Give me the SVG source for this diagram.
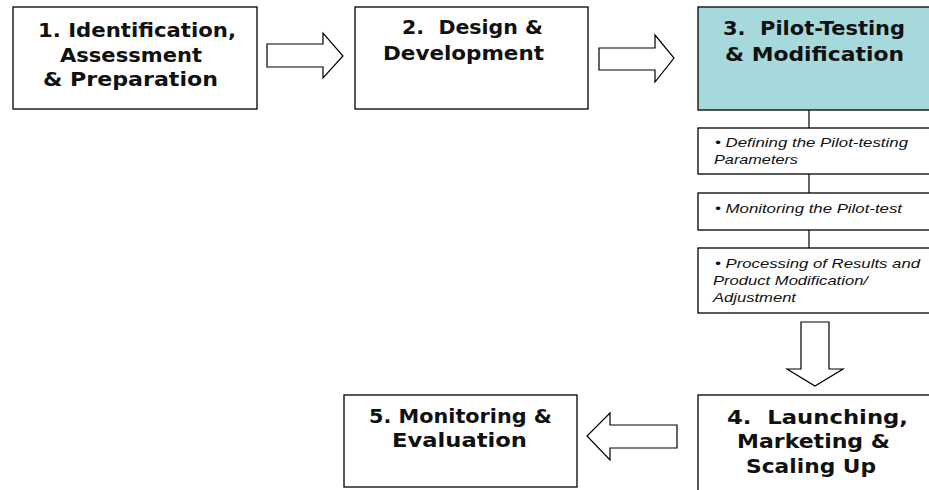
<svg xmlns="http://www.w3.org/2000/svg" width="929" height="490" viewBox="0 0 929 490">
  <style>
    .box { fill: #ffffff; stroke: #000000; stroke-width: 1.3; }
    .teal { fill: #a5d9db; }
    .title { font-family: "DejaVu Sans", "Liberation Sans", sans-serif; font-weight: bold; font-size: 20px; fill: #111111; }
    .item { font-family: "Liberation Sans", Arial, sans-serif; font-style: italic; font-size: 13px; fill: #111111; }
    .arrow { fill: #ffffff; stroke: #000000; stroke-width: 1.2; stroke-linejoin: miter; }
    .link { stroke: #000000; stroke-width: 1.2; fill: none; }
  </style>
  <rect width="929" height="490" fill="#ffffff"/>

  <g id="connectors">
    <polygon class="arrow" points="267,44 323,44 323,33 343,56 323,78 323,67 267,67"/>
    <polygon class="arrow" points="599,48 655,48 655,35 674,58 655,82 655,70 599,70"/>
    <polygon class="arrow" points="801,322 829,322 829,369 843,369 815,386 787,369 801,369"/>
    <polygon class="arrow" points="677,425 610,425 610,413 587,436 610,460 610,448 677,448"/>
    <line class="link" x1="809" y1="110" x2="809" y2="128"/>
    <line class="link" x1="809" y1="174" x2="809" y2="193"/>
    <line class="link" x1="809" y1="230" x2="809" y2="248"/>
  </g>

  <g id="node1">
    <rect class="box" x="13" y="7" width="244" height="102"/>
    <text class="title" x="38" y="37" textLength="198" lengthAdjust="spacingAndGlyphs">1. Identification,</text>
    <text class="title" x="60" y="62" textLength="142" lengthAdjust="spacingAndGlyphs">Assessment</text>
    <text class="title" x="43" y="86" textLength="175" lengthAdjust="spacingAndGlyphs">&amp; Preparation</text>
  </g>

  <g id="node2">
    <rect class="box" x="355" y="7" width="233" height="102"/>
    <text class="title" x="402" y="34" textLength="141" lengthAdjust="spacingAndGlyphs" xml:space="preserve">2.  Design &amp;</text>
    <text class="title" x="383" y="60" textLength="161" lengthAdjust="spacingAndGlyphs">Development</text>
  </g>

  <g id="node3">
    <rect class="box teal" x="698" y="7" width="240" height="103"/>
    <text class="title" x="723" y="35" textLength="182" lengthAdjust="spacingAndGlyphs" xml:space="preserve">3.  Pilot-Testing</text>
    <text class="title" x="725" y="61" textLength="179" lengthAdjust="spacingAndGlyphs">&amp; Modification</text>
  </g>

  <g id="node3a">
    <rect class="box" x="698" y="128" width="240" height="46"/>
    <text class="item" x="715" y="147" textLength="193" lengthAdjust="spacingAndGlyphs">• Defining the Pilot-testing</text>
    <text class="item" x="714" y="164" textLength="84" lengthAdjust="spacingAndGlyphs">Parameters</text>
  </g>

  <g id="node3b">
    <rect class="box" x="698" y="193" width="240" height="37"/>
    <text class="item" x="715" y="213" textLength="187" lengthAdjust="spacingAndGlyphs">• Monitoring the Pilot-test</text>
  </g>

  <g id="node3c">
    <rect class="box" x="698" y="248" width="240" height="65"/>
    <text class="item" x="715" y="268" textLength="205" lengthAdjust="spacingAndGlyphs">• Processing of Results and</text>
    <text class="item" x="713" y="285" textLength="155" lengthAdjust="spacingAndGlyphs">Product Modification/</text>
    <text class="item" x="713" y="302" textLength="83" lengthAdjust="spacingAndGlyphs">Adjustment</text>
  </g>

  <g id="node4">
    <rect class="box" x="698" y="395" width="240" height="100"/>
    <text class="title" x="727" y="424" textLength="181" lengthAdjust="spacingAndGlyphs" xml:space="preserve">4.  Launching,</text>
    <text class="title" x="737" y="448" textLength="153" lengthAdjust="spacingAndGlyphs">Marketing &amp;</text>
    <text class="title" x="746" y="473" textLength="130" lengthAdjust="spacingAndGlyphs">Scaling Up</text>
  </g>

  <g id="node5">
    <rect class="box" x="344" y="395" width="233" height="92"/>
    <text class="title" x="369" y="423" textLength="183" lengthAdjust="spacingAndGlyphs">5. Monitoring &amp;</text>
    <text class="title" x="392" y="447" textLength="135" lengthAdjust="spacingAndGlyphs">Evaluation</text>
  </g>
</svg>
